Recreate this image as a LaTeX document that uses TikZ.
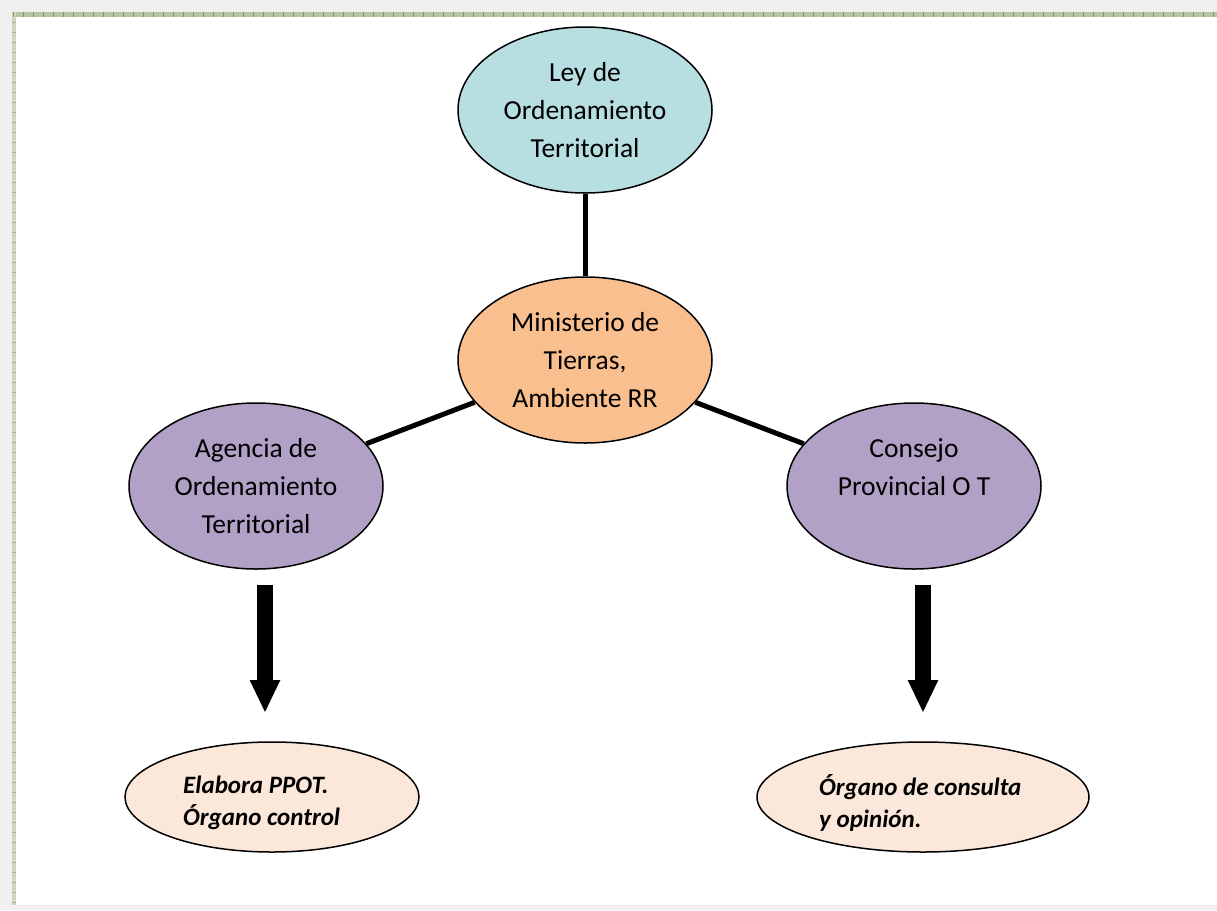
\documentclass[tikz,border=0pt]{standalone}
\usepackage{fontspec}
\setmainfont{Carlito}
\usetikzlibrary{shapes.geometric,arrows.meta}
\definecolor{pagegray}{HTML}{F0F0F0}
\definecolor{stripgreen}{HTML}{B8C4A6}
\definecolor{tickgreen}{HTML}{7F9563}
\definecolor{aqua}{HTML}{B7DEE1}
\definecolor{peach}{HTML}{F9BF8F}
\definecolor{lilac}{HTML}{B2A1C7}
\definecolor{cream}{HTML}{FCE8DA}
\tikzset{
  bigell/.style={ellipse, draw=black, line width=1.5pt, inner sep=0pt,
    minimum width=254pt, minimum height=166pt, align=center,
    font=\fontsize{27.5}{38}\selectfont},
  smallell/.style={ellipse, draw=black, line width=1.5pt, fill=cream, inner sep=0pt,
    minimum height=110pt},
  smalltext/.style={anchor=west, align=left, inner sep=0pt,
    font=\fontsize{25}{32}\selectfont\bfseries\itshape},
  link/.style={line width=5pt, black},
  blockarrow/.style={line width=16pt, black, -{Triangle[width=28pt,length=33pt]}}
}
\begin{document}
\begin{tikzpicture}[x=1pt,y=-1pt]
\useasboundingbox (0,0) rectangle (1217,910);
% page
\fill[pagegray] (0,0) rectangle (1217,910);
\fill[white] (16,17) rectangle (1217,905);
\fill[stripgreen] (12,12) rectangle (1217,17);
\fill[stripgreen!70!white] (12,12) rectangle (16,905);
\foreach \i in {0,...,120} {
  \draw[tickgreen, line width=0.6pt] ({13+10*\i},12) -- ({13+10*\i},17);
}
\foreach \j in {0,...,89} {
  \draw[tickgreen!70!white, line width=0.4pt] (12,{22+10*\j}) -- (16,{22+10*\j});
}
% nodes
\node[bigell, fill=aqua] (ley) at (585,110) {Ley de\\Ordenamiento\\Territorial};
\node[bigell, fill=peach] (min) at (585,360) {Ministerio de\\Tierras,\\Ambiente RR};
\node[bigell, fill=lilac] (age) at (256,486) {Agencia de\\Ordenamiento\\Territorial};
\node[bigell, fill=lilac] (con) at (914,486) {Consejo\\Provincial O T\\\mbox{}};
\node[smallell, minimum width=294pt] (ela) at (272,797) {};
\node[smallell, minimum width=332pt] (org) at (923,797) {};
\node[smalltext] (elat) at (183,803) {Elabora PPOT.\\Órgano control};
\node[smalltext] (orgt) at (819,803) {Órgano de consulta\\y opinión.};
% connectors
\draw[link] (ley) -- (min);
\draw[link] (min) -- (age);
\draw[link] (min) -- (con);
\coordinate (a1s) at (265,585);
\coordinate (a1e) at (265,713);
\coordinate (a2s) at (923,585);
\coordinate (a2e) at (923,713);
\draw[blockarrow] (a1s) -- (a1e);
\draw[blockarrow] (a2s) -- (a2e);
\end{tikzpicture}
\end{document}
